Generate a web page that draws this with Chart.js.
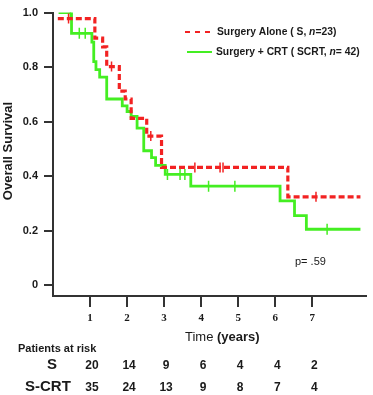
<!DOCTYPE html>
<html>
<head>
<meta charset="utf-8">
<script src="https://cdn.jsdelivr.net/npm/chart.js@4.4.1/dist/chart.umd.min.js"></script>
<style>
  html, body { margin:0; padding:0; background:#fff; }
  #wrap { width:373px; height:395px; }
</style>
</head>
<body>
<div id="wrap"><canvas id="km" width="373" height="395"></canvas></div>
<script>
/* ── Kaplan-Meier steps (time in years, survival after the drop) ── */
const sTimes    = [0.13, 1.13, 1.34, 1.45, 1.79, 1.95, 2.11, 2.53, 2.93, 6.34, 8.30];
const sSurv     = [0.978, 0.906, 0.874, 0.802, 0.712, 0.683, 0.612, 0.547, 0.432, 0.324, 0.324];
const scrtTimes = [0.15, 0.50, 1.05, 1.10, 1.16, 1.26, 1.45, 1.87, 2.00, 2.11, 2.27, 2.45, 2.66, 2.77, 3.03, 3.72, 6.13, 6.52, 6.84, 8.30];
const scrtSurv  = [1.0, 0.924, 0.892, 0.820, 0.791, 0.763, 0.683, 0.658, 0.637, 0.619, 0.576, 0.493, 0.468, 0.439, 0.406, 0.363, 0.309, 0.255, 0.205, 0.205];

/* ── censored observations ── */
const sCensor    = [0.42, 1.58, 2.64, 3.83, 4.51, 4.59, 7.10];
const scrtCensor = [0.47, 0.71, 0.87, 3.09, 3.43, 3.56, 4.20, 4.91, 7.40];

/* ── axis ticks + numbers at risk ── */
const xTicks   = [1, 2, 3, 4, 5, 6, 7];
const yTicks   = [0, 0.2, 0.4, 0.6, 0.8, 1.0];
const riskS    = [20, 14, 9, 6, 4, 4, 2];
const riskSCRT = [35, 24, 13, 9, 8, 7, 4];

const RED = '#f22222', GREEN = '#44ee22', AXIS = '#333', INK = '#1a1a1a';
const SANS = '"Liberation Sans", Arial, sans-serif';
const SERIF = '"Liberation Serif", "Times New Roman", serif';

function survAt(times, surv, t) {
  let v = surv[0];
  for (let i = 0; i < times.length; i++) { if (times[i] <= t) v = surv[i]; }
  return v;
}
const steps = (times, surv) => times.map((t, i) => ({ x:t, y:surv[i] }));
const marks = (cens, times, surv) => cens.map(t => ({ x:t, y:survAt(times, surv, t) }));

/* ── text drawn around the plot ── */
const extras = {
  id:'extras',
  afterDraw(chart) {
    const ctx = chart.ctx, xs = chart.scales.x;
    ctx.save();
    ctx.fillStyle = INK;
    ctx.textBaseline = 'middle';

    // y title
    ctx.save();
    ctx.translate(8, 151);
    ctx.rotate(-Math.PI / 2);
    ctx.textAlign = 'center';
    ctx.font = `bold 13px ${SANS}`;
    ctx.fillText('Overall Survival', 0, 0);
    ctx.restore();

    // legend
    ctx.lineWidth = 2;
    ctx.strokeStyle = RED;
    ctx.setLineDash([5, 5]);
    ctx.beginPath(); ctx.moveTo(185, 32); ctx.lineTo(211, 32); ctx.stroke();
    ctx.setLineDash([]);
    ctx.strokeStyle = GREEN;
    ctx.beginPath(); ctx.moveTo(187, 52); ctx.lineTo(212, 52); ctx.stroke();
    const runs = (x, y, parts) => {
      ctx.textAlign = 'left';
      parts.forEach(([txt, f]) => { ctx.font = f; ctx.fillText(txt, x, y); x += ctx.measureText(txt).width; });
    };
    const B = `bold 10.3px ${SANS}`, BI = `italic bold 10.3px ${SANS}`;
    runs(217, 32, [['Surgery Alone ( S, ', B], ['n', BI], ['=23)', B]]);
    runs(216, 52, [['Surgery + CRT ( SCRT, ', B], ['n', BI], ['= 42)', B]]);

    // p value
    ctx.font = `11px ${SANS}`;
    ctx.fillText('p= .59', 295, 262);

    // x title
    runs(185, 337, [['Time ', `13px ${SANS}`], ['(years)', `bold 13px ${SANS}`]]);

    // at-risk table
    ctx.font = `bold 11px ${SANS}`;
    ctx.fillText('Patients at risk', 18, 349);
    ctx.font = `bold 15px ${SANS}`;
    ctx.textAlign = 'center';
    ctx.fillText('S', 52, 365);
    ctx.textAlign = 'left';
    ctx.fillText('S-CRT', 25, 387);
    ctx.textAlign = 'center';
    ctx.font = `bold 12px ${SANS}`;
    xTicks.forEach((t, i) => {
      const px = xs.getPixelForValue(t) + 2;
      ctx.fillText(String(riskS[i]), px, 366);
      ctx.fillText(String(riskSCRT[i]), px, 388);
    });
    ctx.restore();
  }
};

new Chart(document.getElementById('km'), {
  type:'line',
  data:{
    datasets:[
      { label:'S', data:steps(sTimes, sSurv), borderColor:RED, borderWidth:3.2, borderDash:[6,3],
        stepped:true, pointRadius:0, fill:false },
      { type:'scatter', label:'S censored', data:marks(sCensor, sTimes, sSurv), pointStyle:'line',
        rotation:90, radius:5, borderColor:RED, borderWidth:1.5, showLine:false },
      { label:'SCRT', data:steps(scrtTimes, scrtSurv), borderColor:GREEN, borderWidth:2.8,
        stepped:true, pointRadius:0, fill:false },
      { type:'scatter', label:'SCRT censored', data:marks(scrtCensor, scrtTimes, scrtSurv), pointStyle:'line',
        rotation:90, radius:5.5, borderColor:GREEN, borderWidth:1.5, showLine:false },
    ]
  },
  options:{
    responsive:false, animation:false, devicePixelRatio:1,
    layout:{ padding:{ top:7, right:1, left:0, bottom:0 } },
    plugins:{ legend:{ display:false }, tooltip:{ enabled:false } },
    scales:{
      x:{
        type:'linear', min:0, max:8.45,
        afterFit:s => { s.height = 99; },
        afterBuildTicks:s => { s.ticks = xTicks.map(v => ({ value:v })); },
        border:{ display:true, color:AXIS, width:2 },
        grid:{ drawOnChartArea:false, drawTicks:true, tickLength:11, color:AXIS, lineWidth:2 },
        ticks:{ padding:5, color:INK, font:{ family:SERIF, size:11, weight:'bold' }, maxRotation:0 }
      },
      y:{
        type:'linear', min:-0.04, max:1.0,
        afterFit:s => { s.width = 53; },
        afterBuildTicks:s => { s.ticks = yTicks.map(v => ({ value:v })); },
        border:{ display:true, color:AXIS, width:2 },
        grid:{ drawOnChartArea:false, drawTicks:true, tickLength:9, color:AXIS, lineWidth:2 },
        ticks:{ padding:6, color:INK, font:{ family:SANS, size:11, weight:'bold' },
          callback:v => v === 0 ? '0' : v.toFixed(1) }
      }
    }
  },
  plugins:[extras]
});
</script>
</body>
</html>
